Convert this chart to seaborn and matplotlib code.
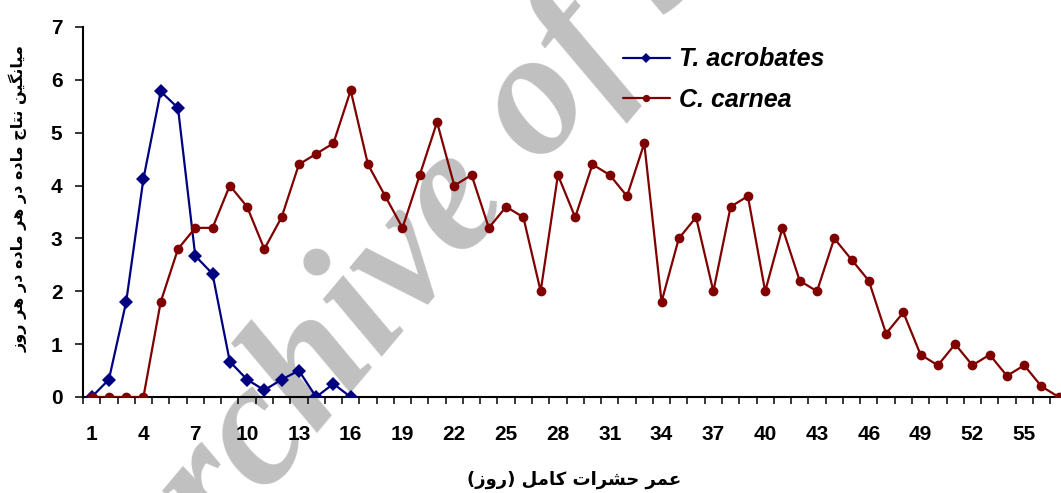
import numpy as np
import pandas as pd
import matplotlib
matplotlib.use("Agg")
import matplotlib.pyplot as plt
import seaborn as sns
from matplotlib.ticker import FixedLocator

# ---------------- data ----------------
days = list(range(1, 58))
t_acrobates = [0.0, 0.33, 1.8, 4.13, 5.78, 5.47, 2.67, 2.33, 0.67, 0.33,
               0.13, 0.33, 0.5, 0.0, 0.25, 0.0]
c_carnea = [0.0, 0.0, 0.0, 0.0, 1.8, 2.8, 3.2, 3.2, 4.0, 3.6, 2.8, 3.4, 4.4,
            4.6, 4.8, 5.8, 4.4, 3.8, 3.2, 4.2, 5.2, 4.0, 4.2, 3.2, 3.6, 3.4,
            2.0, 4.2, 3.4, 4.4, 4.2, 3.8, 4.8, 1.8, 3.0, 3.4, 2.0, 3.6, 3.8,
            2.0, 3.2, 2.2, 2.0, 3.0, 2.6, 2.2, 1.2, 1.6, 0.8, 0.6, 1.0, 0.6,
            0.8, 0.4, 0.6, 0.2, 0.0]
series_names = ["T. acrobates", "C. carnea"]
x_tick_labels = list(range(1, 57, 3))
y_ticks = list(range(0, 8))
x_label = "عمر حشرات کامل (روز)"
y_label = "میانگین نتاج ماده در هر ماده در هر روز"
watermark = "Archive of SID"

# ------------- simple Persian shaping (presentation forms) -------------
FORMS = {
    'ا': ('\uFE8D', '\uFE8E', None, None),
    'آ': ('\uFE81', '\uFE82', None, None),
    'ب': ('\uFE8F', '\uFE90', '\uFE91', '\uFE92'),
    'پ': ('\uFB56', '\uFB57', '\uFB58', '\uFB59'),
    'ت': ('\uFE95', '\uFE96', '\uFE97', '\uFE98'),
    'ج': ('\uFE9D', '\uFE9E', '\uFE9F', '\uFEA0'),
    'چ': ('\uFB7A', '\uFB7B', '\uFB7C', '\uFB7D'),
    'ح': ('\uFEA1', '\uFEA2', '\uFEA3', '\uFEA4'),
    'د': ('\uFEA9', '\uFEAA', None, None),
    'ر': ('\uFEAD', '\uFEAE', None, None),
    'ز': ('\uFEAF', '\uFEB0', None, None),
    'ش': ('\uFEB5', '\uFEB6', '\uFEB7', '\uFEB8'),
    'ع': ('\uFEC9', '\uFECA', '\uFECB', '\uFECC'),
    'ک': ('\uFB8E', '\uFB8F', '\uFB90', '\uFB91'),
    'گ': ('\uFB92', '\uFB93', '\uFB94', '\uFB95'),
    'ل': ('\uFEDD', '\uFEDE', '\uFEDF', '\uFEE0'),
    'م': ('\uFEE1', '\uFEE2', '\uFEE3', '\uFEE4'),
    'ن': ('\uFEE5', '\uFEE6', '\uFEE7', '\uFEE8'),
    'ه': ('\uFEE9', '\uFEEA', '\uFEEB', '\uFEEC'),
    'و': ('\uFEED', '\uFEEE', None, None),
    'ی': ('\uFBFC', '\uFBFD', '\uFBFE', '\uFBFF'),
}


def shape_rtl(text):
    out = []
    n = len(text)
    for i, ch in enumerate(text):
        if ch not in FORMS:
            out.append(ch)
            continue
        prev = text[i - 1] if i > 0 else None
        nxt = text[i + 1] if i < n - 1 else None
        jp = prev in FORMS and FORMS[prev][2] is not None
        jn = nxt in FORMS and FORMS[ch][2] is not None
        iso, fin, ini, med = FORMS[ch]
        if jp and jn:
            out.append(med)
        elif jp:
            out.append(fin)
        elif jn:
            out.append(ini)
        else:
            out.append(iso)
    vis = "".join(reversed(out))
    return vis.translate(str.maketrans("()", ")("))


# ---------------- plotting ----------------
sns.set_theme(style="white")
plt.rcParams["font.family"] = ["Liberation Sans", "DejaVu Sans"]

W, H = 1061, 493
fig = plt.figure(figsize=(W / 100, H / 100), dpi=100)
fig.patch.set_facecolor("white")
ax = fig.add_axes([83 / W, 96 / H, (W - 83) / W, 370 / H])
ax.patch.set_alpha(0)

navy = "#000080"
maroon = "#800000"
df_t = pd.DataFrame({"day": days[:len(t_acrobates)], "val": t_acrobates})
df_c = pd.DataFrame({"day": days[:len(c_carnea)], "val": c_carnea})
sns.lineplot(data=df_t, x="day", y="val", ax=ax, color=navy, marker="D",
             markersize=7.2, markeredgewidth=0, linewidth=1.6,
             label=series_names[0], zorder=3)
sns.lineplot(data=df_c, x="day", y="val", ax=ax, color=maroon, marker="o",
             markersize=7, markeredgewidth=0, linewidth=1.6,
             label=series_names[1], zorder=3)

ax.set_xlim(0.5, 0.5 + (W - 83) / 17.27)
ax.set_ylim(0, 7)
ax.set_yticks(y_ticks)
ax.set_xticks(x_tick_labels)
ax.set_xticklabels([str(v) for v in x_tick_labels])
ax.xaxis.set_minor_locator(FixedLocator(np.arange(0.5, 58, 1.0)))

for s in ["top", "right"]:
    ax.spines[s].set_visible(False)
for s in ["left", "bottom"]:
    ax.spines[s].set_color("black")
    ax.spines[s].set_linewidth(1.5)

ax.tick_params(axis="x", which="major", length=0, pad=20, labelsize=15,
               colors="black")
ax.tick_params(axis="x", which="minor", length=5, width=1.1, color="black",
               direction="out", bottom=True)
ax.tick_params(axis="y", which="major", length=5.8, width=1.1, color="black",
               direction="out", left=True, pad=9, labelsize=15)
for lab in ax.get_xticklabels() + ax.get_yticklabels():
    lab.set_fontweight("bold")
    lab.set_color("black")

ax.set_xlabel(shape_rtl(x_label), fontsize=13, fontweight="bold",
              family=["DejaVu Sans"], color="black")
ax.xaxis.set_label_coords((574 - 83) / (W - 83), -(480 - 397) / 370)
ax.xaxis.label.set_va("center")
ax.set_ylabel(shape_rtl(y_label), fontsize=11.5, fontweight="bold",
              family=["DejaVu Sans"], color="black")
ax.yaxis.set_label_coords(-(83 - 18) / (W - 83), (397 - 199) / 370)
ax.yaxis.label.set_va("center")

leg = ax.legend(loc="upper left", bbox_to_anchor=(600 / W, 1 - 25 / H),
                bbox_transform=fig.transFigure, frameon=False,
                prop={"family": "Liberation Sans", "weight": "bold",
                      "style": "italic", "size": 18},
                handlelength=1.9, handletextpad=0.36, labelspacing=0.65,
                markerscale=0.75)
for t in leg.get_texts():
    t.set_color("black")

# watermark (behind the chart)
fig.text(148 / W, 1 - 647 / H, watermark, rotation=50,
         rotation_mode="anchor", ha="left", va="baseline",
         family="Liberation Serif", style="italic", weight="bold",
         fontsize=128, color="#c0c0c0", zorder=-1)

fig.savefig("out.png", dpi=100)
